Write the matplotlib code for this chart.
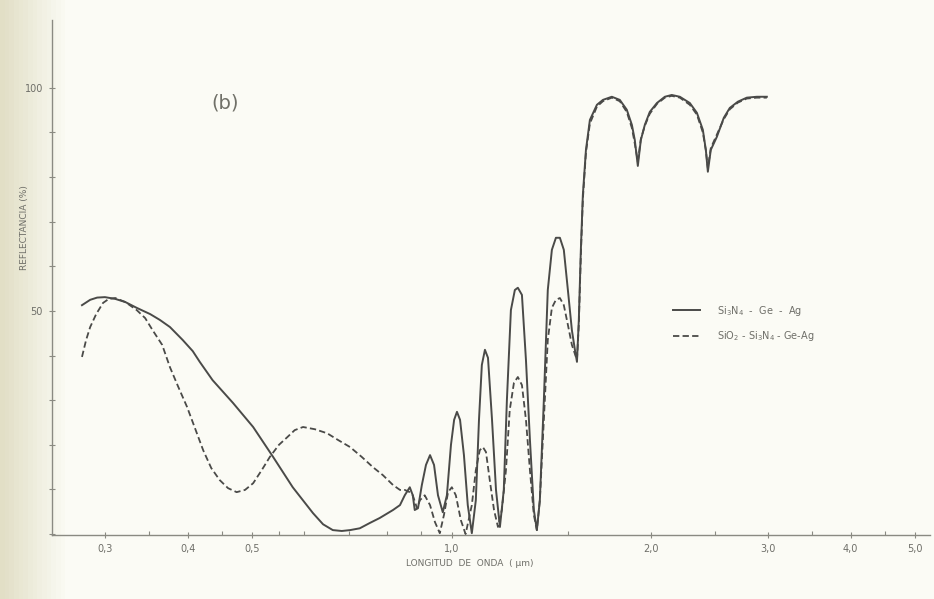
import matplotlib.pyplot as plt
import matplotlib.ticker as mticker
import numpy as np

# longitud de onda (um) y reflectancia (%)
lam_sol = [0.277, 0.285, 0.292, 0.300, 0.311, 0.322, 0.335, 0.351, 0.363, 0.376,
           0.393, 0.407, 0.417, 0.436, 0.468, 0.502, 0.538, 0.576, 0.618, 0.640,
           0.662, 0.683, 0.703, 0.727, 0.753, 0.779, 0.816, 0.836,
           0.850, 0.865, 0.874, 0.880, 0.890, 0.902, 0.915, 0.928, 0.941, 0.954,
           0.970, 0.984, 0.998, 1.009, 1.019, 1.030, 1.044, 1.058, 1.073, 1.088,
           1.100, 1.111, 1.123, 1.135, 1.151, 1.167, 1.183, 1.199, 1.212, 1.229,
           1.246, 1.259, 1.277, 1.295, 1.313, 1.331, 1.345, 1.359, 1.378, 1.397,
           1.417, 1.437, 1.457, 1.477, 1.498, 1.519, 1.535, 1.546, 1.556, 1.567,
           1.578, 1.595, 1.617, 1.657, 1.692, 1.745, 1.794, 1.838, 1.871, 1.890,
           1.910, 1.930, 1.957, 1.991, 2.041, 2.098, 2.149, 2.210, 2.288, 2.345,
           2.394, 2.419, 2.436, 2.461, 2.513, 2.575, 2.629, 2.704, 2.789, 2.888, 2.99]
ref_sol = [51.3, 52.5, 53.0, 53.1, 52.7, 52.0, 50.7, 49.3, 48.0, 46.4,
           43.5, 41.0, 38.6, 34.5, 29.4, 24.0, 17.3, 10.5, 4.7, 2.2,
           0.9, 0.7, 0.9, 1.3, 2.5, 3.6, 5.4, 6.5,
           8.7, 10.5, 8.7, 5.4, 5.8, 11.0, 15.5, 17.7, 15.5, 8.7,
           4.9, 8.7, 20.0, 25.6, 27.4, 25.6, 17.7, 6.5, 0.2, 7.6,
           25.6, 37.9, 41.3, 39.5, 25.6, 9.9, 1.6, 9.9, 30.0, 50.2,
           54.7, 55.2, 53.6, 39.0, 21.1, 5.4, 0.9, 7.6, 30.0, 54.7,
           63.7, 66.4, 66.4, 63.7, 54.7, 45.7, 41.3, 38.6, 48.0, 63.7,
           76.0, 86.1, 92.8, 96.2, 97.3, 98.0, 97.3, 95.1, 91.7, 88.3,
           82.5, 88.3, 91.7, 94.6, 96.6, 98.0, 98.4, 98.0, 96.6, 94.4,
           90.6, 86.1, 81.2, 86.1, 89.0, 93.3, 95.5, 96.9, 97.8, 98.0, 98.0]

lam_dash = [0.277, 0.281, 0.285, 0.291, 0.298, 0.304, 0.311, 0.322, 0.335, 0.345,
            0.354, 0.366, 0.376, 0.387, 0.399, 0.410, 0.422, 0.434, 0.447, 0.460,
            0.474, 0.488, 0.502, 0.517, 0.532, 0.549, 0.565, 0.580, 0.597, 0.622,
            0.649, 0.674, 0.703, 0.732, 0.761, 0.788, 0.816, 0.836,
            0.850, 0.865, 0.874, 0.887, 0.896, 0.911, 0.928, 0.944, 0.960, 0.974,
            0.988, 1.001, 1.015, 1.033, 1.050, 1.073, 1.088, 1.103, 1.115, 1.127,
            1.142, 1.159, 1.175, 1.191, 1.208, 1.224, 1.242, 1.259, 1.277, 1.295,
            1.313, 1.331, 1.345, 1.359, 1.378, 1.397, 1.417, 1.437, 1.457, 1.477,
            1.498, 1.519, 1.546, 1.556, 1.567, 1.578, 1.595, 1.617, 1.657, 1.692,
            1.745, 1.794, 1.838, 1.871, 1.890, 1.910, 1.930, 1.957, 1.991, 2.041,
            2.098, 2.149, 2.210, 2.288, 2.345, 2.394, 2.419, 2.436, 2.461, 2.513,
            2.575, 2.629, 2.704, 2.789, 2.888, 2.99]
ref_dash = [39.7, 43.5, 46.4, 49.3, 51.8, 52.7, 52.9, 52.0, 50.2, 48.4,
            45.7, 42.4, 37.4, 33.0, 28.5, 23.8, 18.8, 14.8, 12.1, 10.3,
            9.4, 9.9, 11.4, 14.3, 17.3, 20.0, 21.7, 23.3, 24.0, 23.5,
            22.6, 21.1, 19.5, 17.3, 15.0, 13.2, 11.0, 9.9,
            9.9, 9.4, 8.7, 5.8, 7.6, 8.7, 6.5, 2.7, 0.2, 4.3,
            9.4, 10.5, 8.7, 3.1, 0.0, 6.5, 14.3, 18.8, 19.5, 18.4,
            12.1, 5.4, 1.6, 5.4, 14.3, 27.8, 33.9, 35.2, 33.4, 25.6,
            14.3, 4.3, 0.9, 7.6, 25.6, 43.5, 50.7, 52.5, 52.9, 51.3,
            46.9, 42.4, 39.0, 47.0, 62.5, 75.0, 85.5, 92.0, 95.8, 97.0,
            97.8, 97.0, 94.6, 91.0, 87.5, 83.5, 88.5, 91.5, 94.2, 96.4,
            97.8, 98.2, 97.8, 96.2, 94.0, 90.0, 86.0, 82.0, 86.5, 89.5,
            93.0, 95.2, 96.7, 97.6, 97.8, 97.8]

xticks = [0.3, 0.4, 0.5, 1.0, 2.0, 3.0, 4.0, 5.0]
xtick_labels = ['0,3', '0,4', '0,5', '1,0', '2,0', '3,0', '4,0', '5,0']
xminor = [0.35, 0.45, 0.55, 0.6, 0.7, 0.8, 0.9, 1.5, 2.5, 3.5, 4.5]

tinta = '#4a4a48'
gris = '#6e6e68'

fig = plt.figure(figsize=(9.34, 5.99), dpi=100, facecolor='#fbfbf5')

# fondo del escaneo, un poco mas oscuro en el borde izquierdo
bg = fig.add_axes([0, 0, 1, 1], zorder=-5)
grad = np.linspace(0, 1, 200)
grad = np.clip(grad / 0.07, 0, 1)[None, :]
bg.imshow(grad, aspect='auto', extent=[0, 1, 0, 1],
          cmap=plt.matplotlib.colors.LinearSegmentedColormap.from_list('p', ['#e2dfc6', '#fbfbf5']))
bg.axis('off')

ax = fig.add_axes([52 / 934, 1 - 535 / 599, 878 / 934, 515 / 599])
ax.patch.set_alpha(0)

ax.plot(lam_sol, ref_sol, color=tinta, lw=1.4, label=r'$\mathrm{Si_3N_4}$  -  Ge  -  Ag')
ax.plot(lam_dash, ref_dash, color=tinta, lw=1.3, linestyle=(0, (3.5, 1.8)),
        label=r'$\mathrm{SiO_2}$ - $\mathrm{Si_3N_4}$ - Ge-Ag')

ax.set_xscale('log')
ax.set_xlim(0.2496, 5.27)
ax.set_ylim(-0.2, 115.2)

ax.xaxis.set_major_locator(mticker.FixedLocator(xticks))
ax.xaxis.set_major_formatter(mticker.FixedFormatter(xtick_labels))
ax.xaxis.set_minor_locator(mticker.FixedLocator(xminor))
ax.xaxis.set_minor_formatter(mticker.NullFormatter())

ax.set_yticks(np.arange(0, 101, 10))
ax.set_yticklabels(['' if v not in (50, 100) else str(v) for v in range(0, 101, 10)])

for s in ['top', 'right']:
    ax.spines[s].set_visible(False)
for s in ['left', 'bottom']:
    ax.spines[s].set_color('#8a8a82')
    ax.spines[s].set_linewidth(1.0)

ax.tick_params(axis='both', which='major', direction='inout', length=5, width=0.8,
               color='#8a8a82', labelsize=7, labelcolor=gris, pad=4)
ax.tick_params(axis='x', which='minor', direction='in', length=3, width=0.8, color='#8a8a82')

fig.text(25 / 934, 1 - 228 / 599, 'REFLECTANCIA (%)', rotation=90, ha='center', va='center',
         fontsize=6.5, color=gris)
fig.text(470 / 934, 1 - 563 / 599, 'LONGITUD  DE  ONDA  ( µm)', ha='center', va='center',
         fontsize=6.5, color=gris)
fig.text(225 / 934, 1 - 103 / 599, '(b)', ha='center', va='center', fontsize=14, color='#707068')

ax.legend(loc='upper left', bbox_to_anchor=(664 / 934, 1 - 295 / 599),
          bbox_transform=fig.transFigure, frameon=False, fontsize=7, handlelength=2.8,
          labelspacing=1.2, handletextpad=1.8, labelcolor=gris)

plt.savefig('out.png', dpi=100, facecolor=fig.get_facecolor())
